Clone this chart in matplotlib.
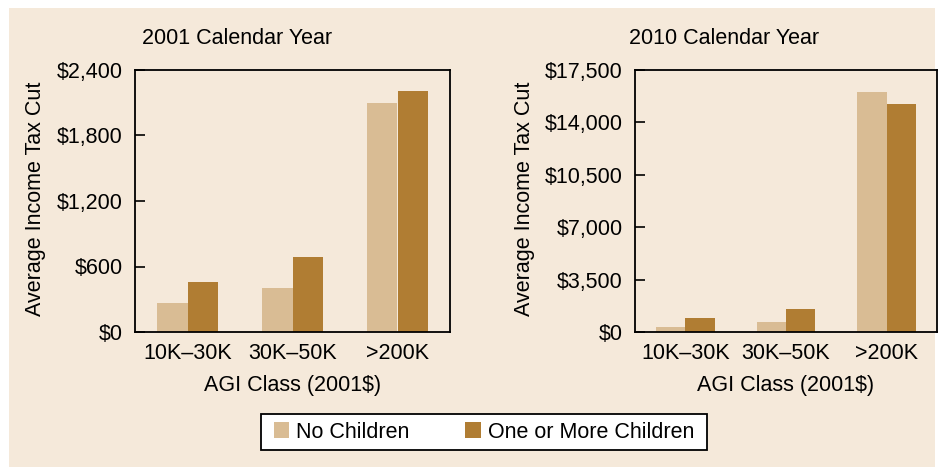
import numpy as np
import matplotlib
matplotlib.use('Agg')
from matplotlib import pyplot as plt
from matplotlib.patches import Rectangle

groups = ['10K\u201330K', '30K\u201350K', '>200K']
no_kids_2001 = [266, 404, 2097]
kids_2001 = [455, 685, 2207]
no_kids_2010 = [312, 646, 16030]
kids_2010 = [914, 1516, 15230]
yticks_2001 = [0, 600, 1200, 1800, 2400]
yticks_2010 = [0, 3500, 7000, 10500, 14000, 17500]

light = '#D9BC94'
dark = '#B07D33'
bg = '#F5E9DA'

plt.rcParams['font.family'] = ['Liberation Sans', 'DejaVu Sans']
plt.rcParams['font.size'] = 15.5

fig = plt.figure(figsize=(9.4, 4.67), dpi=100)
fig.patch.set_facecolor('white')
W, H = 940., 467.

# beige panel behind everything
fig.patches.append(Rectangle((9 / W, 0), 926 / W, 1 - 8 / H, transform=fig.transFigure,
                             facecolor=bg, edgecolor='none', zorder=-10))

def axbox(l, r, t, b):
    return [l / W, 1 - b / H, (r - l) / W, (b - t) / H]

ax1 = fig.add_axes(axbox(135, 450, 70, 332))
ax2 = fig.add_axes(axbox(635, 937, 70, 332))

x = np.arange(3)
w = 0.29

def draw(ax, a, b, ticks, title, tx, ylx):
    ax.set_facecolor(bg)
    ax.bar(x - w / 2, a, w, color=light, label='No Children')
    ax.bar(x + w / 2, b, w, color=dark, label='One or More Children')
    ax.set_xlim(-0.5, 2.5)
    ax.set_ylim(0, ticks[-1])
    ax.set_yticks(ticks)
    ax.set_yticklabels(['$' + format(t, ',') for t in ticks])
    ax.set_xticks(x)
    ax.set_xticklabels(groups)
    ax.tick_params(axis='y', direction='in', length=7, width=1.2, pad=9)
    ax.tick_params(axis='x', length=0, pad=8)
    for s in ax.spines.values():
        s.set_linewidth(1.3)
    ax.set_xlabel('AGI Class (2001$)', labelpad=8)
    ax.set_ylabel('Average Income Tax Cut')
    ax.yaxis.set_label_coords(ylx, 1 - 199 / H, transform=fig.transFigure)
    fig.text(tx / W, 1 - 38 / H, title, ha='left', va='center')

draw(ax1, no_kids_2001, kids_2001, yticks_2001, '2001 Calendar Year', 142, 46 / W)
draw(ax2, no_kids_2010, kids_2010, yticks_2010, '2010 Calendar Year', 629, 535 / W)

# legend box drawn by hand, entries from the legend
fig.patches.append(Rectangle((261 / W, 1 - 450 / H), 446 / W, 36 / H, transform=fig.transFigure,
                             facecolor='white', edgecolor='black', linewidth=1.3, zorder=5))
h, l = ax1.get_legend_handles_labels()
leg = fig.legend(h, l, loc='center', bbox_to_anchor=(484 / W, 1 - 432 / H), ncol=2,
                 frameon=False, handlelength=0.7, handleheight=0.7, columnspacing=2.6,
                 handletextpad=0.35, borderpad=0.3)
leg.set_zorder(6)

fig.savefig('out.png', dpi=100)
